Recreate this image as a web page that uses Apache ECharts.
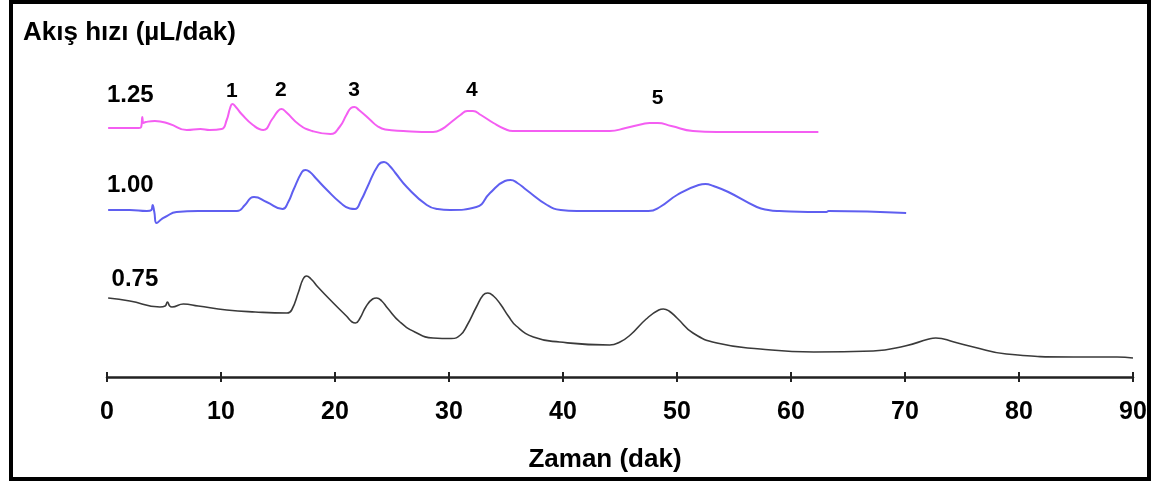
<!DOCTYPE html>
<html>
<head>
<meta charset="utf-8">
<script src="https://cdn.jsdelivr.net/npm/echarts@6/dist/echarts.min.js"></script>
<style>
  html, body { margin: 0; padding: 0; background: #fff; }
  #container { width: 1156px; height: 483px; }
</style>
</head>
<body>
<div id="container"></div>
<script>
// time ticks (dak)
var xTicks = [0, 10, 20, 30, 40, 50, 60, 70, 80, 90];

// traces: [time, signal] (signal = height above the time axis)
var trace125 = [[0.1, 249], [1.5, 249], [2.8, 249], [3.0, 250], [3.1, 260], [3.2, 254], [3.4, 255],
    [4.2, 256], [5.5, 253], [7.0, 247], [8.2, 248], [9.0, 247], [10.05, 248], [10.5, 257], [10.8, 269],
    [11.0, 273], [11.3, 270], [11.8, 263], [12.8, 252], [13.7, 247], [14.5, 258], [15.0, 266], [15.3, 268],
    [15.7, 265], [16.9, 252], [18.0, 246], [19.6, 243], [20.4, 250], [21.0, 262], [21.4, 269], [21.7, 270],
    [22.1, 267], [23.1, 257], [23.7, 251], [24.4, 247.5], [26.0, 246], [28.6, 245], [29.4, 248], [30.1, 254],
    [31.0, 262], [31.6, 266], [32.1, 266], [32.8, 262], [33.9, 254], [34.9, 248], [35.6, 246], [40.0, 246],
    [44.1, 246], [45.5, 249], [47.0, 253], [47.6, 254], [48.3, 254], [49.5, 251], [51.4, 246], [53.5, 245],
    [58.0, 245], [62.4, 245]];

var trace100 = [[0.1, 167], [2.0, 167], [3.5, 166], [3.9, 167], [4.0, 172], [4.15, 165], [4.35, 154],
    [4.8, 158], [5.1, 160], [6.1, 165], [8.0, 166], [11.4, 166], [12.1, 172], [12.6, 179], [12.9, 180],
    [14.0, 175], [15.4, 168], [15.9, 175], [16.35, 187], [17.1, 205], [17.4, 207], [17.8, 205], [18.3, 199],
    [19.3, 187], [20.5, 174], [21.3, 168.5], [21.75, 168], [22.3, 177], [22.8, 189], [23.8, 212], [24.3, 215],
    [24.8, 211], [25.3, 204], [26.3, 190], [28.05, 172], [29.0, 168], [30.1, 167], [32.4, 170], [33.6, 184],
    [34.9, 196], [35.4, 197], [36.0, 194], [36.8, 187], [38.6, 172], [39.8, 167], [41.2, 166], [47.5, 166],
    [48.5, 170], [50.0, 182], [51.9, 192], [52.5, 193], [53.2, 191], [54.5, 185], [57.0, 170], [58.0, 167],
    [59.0, 166], [63.1, 165], [63.3, 166], [70.1, 164]];

var trace075 = [[0.1, 79], [2.0, 76], [4.65, 70], [5.1, 71], [5.3, 75], [5.5, 71], [5.7, 70], [6.7, 73],
    [8.0, 71], [10.5, 67], [13.0, 65], [15.8, 64], [16.2, 67], [16.8, 85], [17.2, 98], [17.5, 101],
    [17.9, 98], [18.5, 90], [19.85, 74], [21.0, 61], [21.5, 55], [21.8, 54], [22.2, 59], [22.7, 70],
    [23.3, 78], [23.65, 79], [24.1, 76], [24.6, 69], [25.7, 55], [27.0, 45], [28.6, 39], [30.2, 38.5],
    [31.0, 42], [31.6, 52], [32.4, 70], [33.0, 82], [33.4, 84], [33.9, 81], [34.5, 73], [35.2, 61],
    [35.9, 51], [37.4, 40], [39.7, 35], [44.1, 32], [45.0, 35], [45.9, 42], [47.3, 58], [48.4, 67],
    [48.8, 68], [49.3, 66], [50.0, 59], [51.4, 44], [53.5, 34], [57.3, 28], [62.0, 25], [67.2, 26],
    [70.0, 31], [72.1, 38], [72.7, 39], [74.3, 35], [76.0, 30], [78.9, 23], [84.8, 20], [88.6, 20],
    [90.0, 19]];

// flow-rate labels of each trace and peak numbers: [time, signal, text]
var flowLabels = [[0, 282, '1.25'], [0, 192, '1.00'], [0.4, 98, '0.75']];
var peakLabels = [[10.96, 286, '1'], [15.25, 287, '2'], [21.67, 287, '3'], [32.0, 287, '4'], [48.3, 279, '5']];

var dom = document.getElementById('container');
var myChart = echarts.init(dom);
var fontFam = '"Liberation Sans", Arial, sans-serif';

var option = {
    animation: false,
    title: {
        text: 'Akış hızı (µL/dak)',
        left: 23,
        top: 20,
        padding: 0,
        textStyle: {fontFamily: fontFam, fontSize: 26, fontWeight: 'bold', color: '#000'}
    },
    grid: {left: 107, right: 23, top: 77, bottom: 106},
    xAxis: [{
        type: 'value',
        min: 0,
        max: 90,
        interval: 10,
        splitLine: {show: false},
        axisLine: {onZero: false, lineStyle: {color: '#222', width: 2.5}},
        axisTick: {length: 5, lineStyle: {color: '#222', width: 2}},
        axisLabel: {
            margin: 23,
            fontFamily: fontFam, fontSize: 25, fontWeight: 'bold', color: '#000',
            formatter: function (v) { return xTicks.indexOf(v) >= 0 ? String(v) : ''; }
        },
        name: 'Zaman (dak)',
        nameLocation: 'middle',
        nameGap: 70,
        nameTextStyle: {fontFamily: fontFam, fontSize: 26, fontWeight: 'bold', color: '#000', padding: [0, 30, 0, 0]}
    }, {
        type: 'value',
        min: 0,
        max: 90,
        interval: 10,
        position: 'bottom',
        splitLine: {show: false},
        axisLine: {show: false},
        axisTick: {inside: true, length: 5, lineStyle: {color: '#222', width: 2}},
        axisLabel: {show: false}
    }],
    yAxis: {type: 'value', min: 0, max: 300, show: false},
    series: [
        {
            name: '1.25', type: 'line', data: trace125, showSymbol: false, smooth: 0.5,
            lineStyle: {color: '#f45ef2', width: 2}
        },
        {
            name: '1.00', type: 'line', data: trace100, showSymbol: false, smooth: 0.5,
            lineStyle: {color: '#5f5ff0', width: 2}
        },
        {
            name: '0.75', type: 'line', data: trace075, showSymbol: false, smooth: 0.5,
            lineStyle: {color: '#3a3a3a', width: 1.6}
        }
    ]
};

if (option && typeof option === 'object') {
    myChart.setOption(option, true);
}

// frame and text labels, placed through the chart's own coordinate system
var graphics = [{
    type: 'rect',
    shape: {x: 11, y: 2, width: 1138, height: 477},
    style: {fill: 'none', stroke: '#000', lineWidth: 4},
    silent: true
}];
flowLabels.forEach(function (d) {
    var p = myChart.convertToPixel({gridIndex: 0}, [d[0], d[1]]);
    graphics.push({
        type: 'text', x: p[0], y: p[1],
        style: {text: d[2], fill: '#000', font: 'bold 24px ' + fontFam, textAlign: 'left', textVerticalAlign: 'middle'}
    });
});
peakLabels.forEach(function (d) {
    var p = myChart.convertToPixel({gridIndex: 0}, [d[0], d[1]]);
    graphics.push({
        type: 'text', x: p[0], y: p[1],
        style: {text: d[2], fill: '#000', font: 'bold 21px ' + fontFam, textAlign: 'center', textVerticalAlign: 'middle'}
    });
});
myChart.setOption({graphic: graphics});
</script>
</body>
</html>
